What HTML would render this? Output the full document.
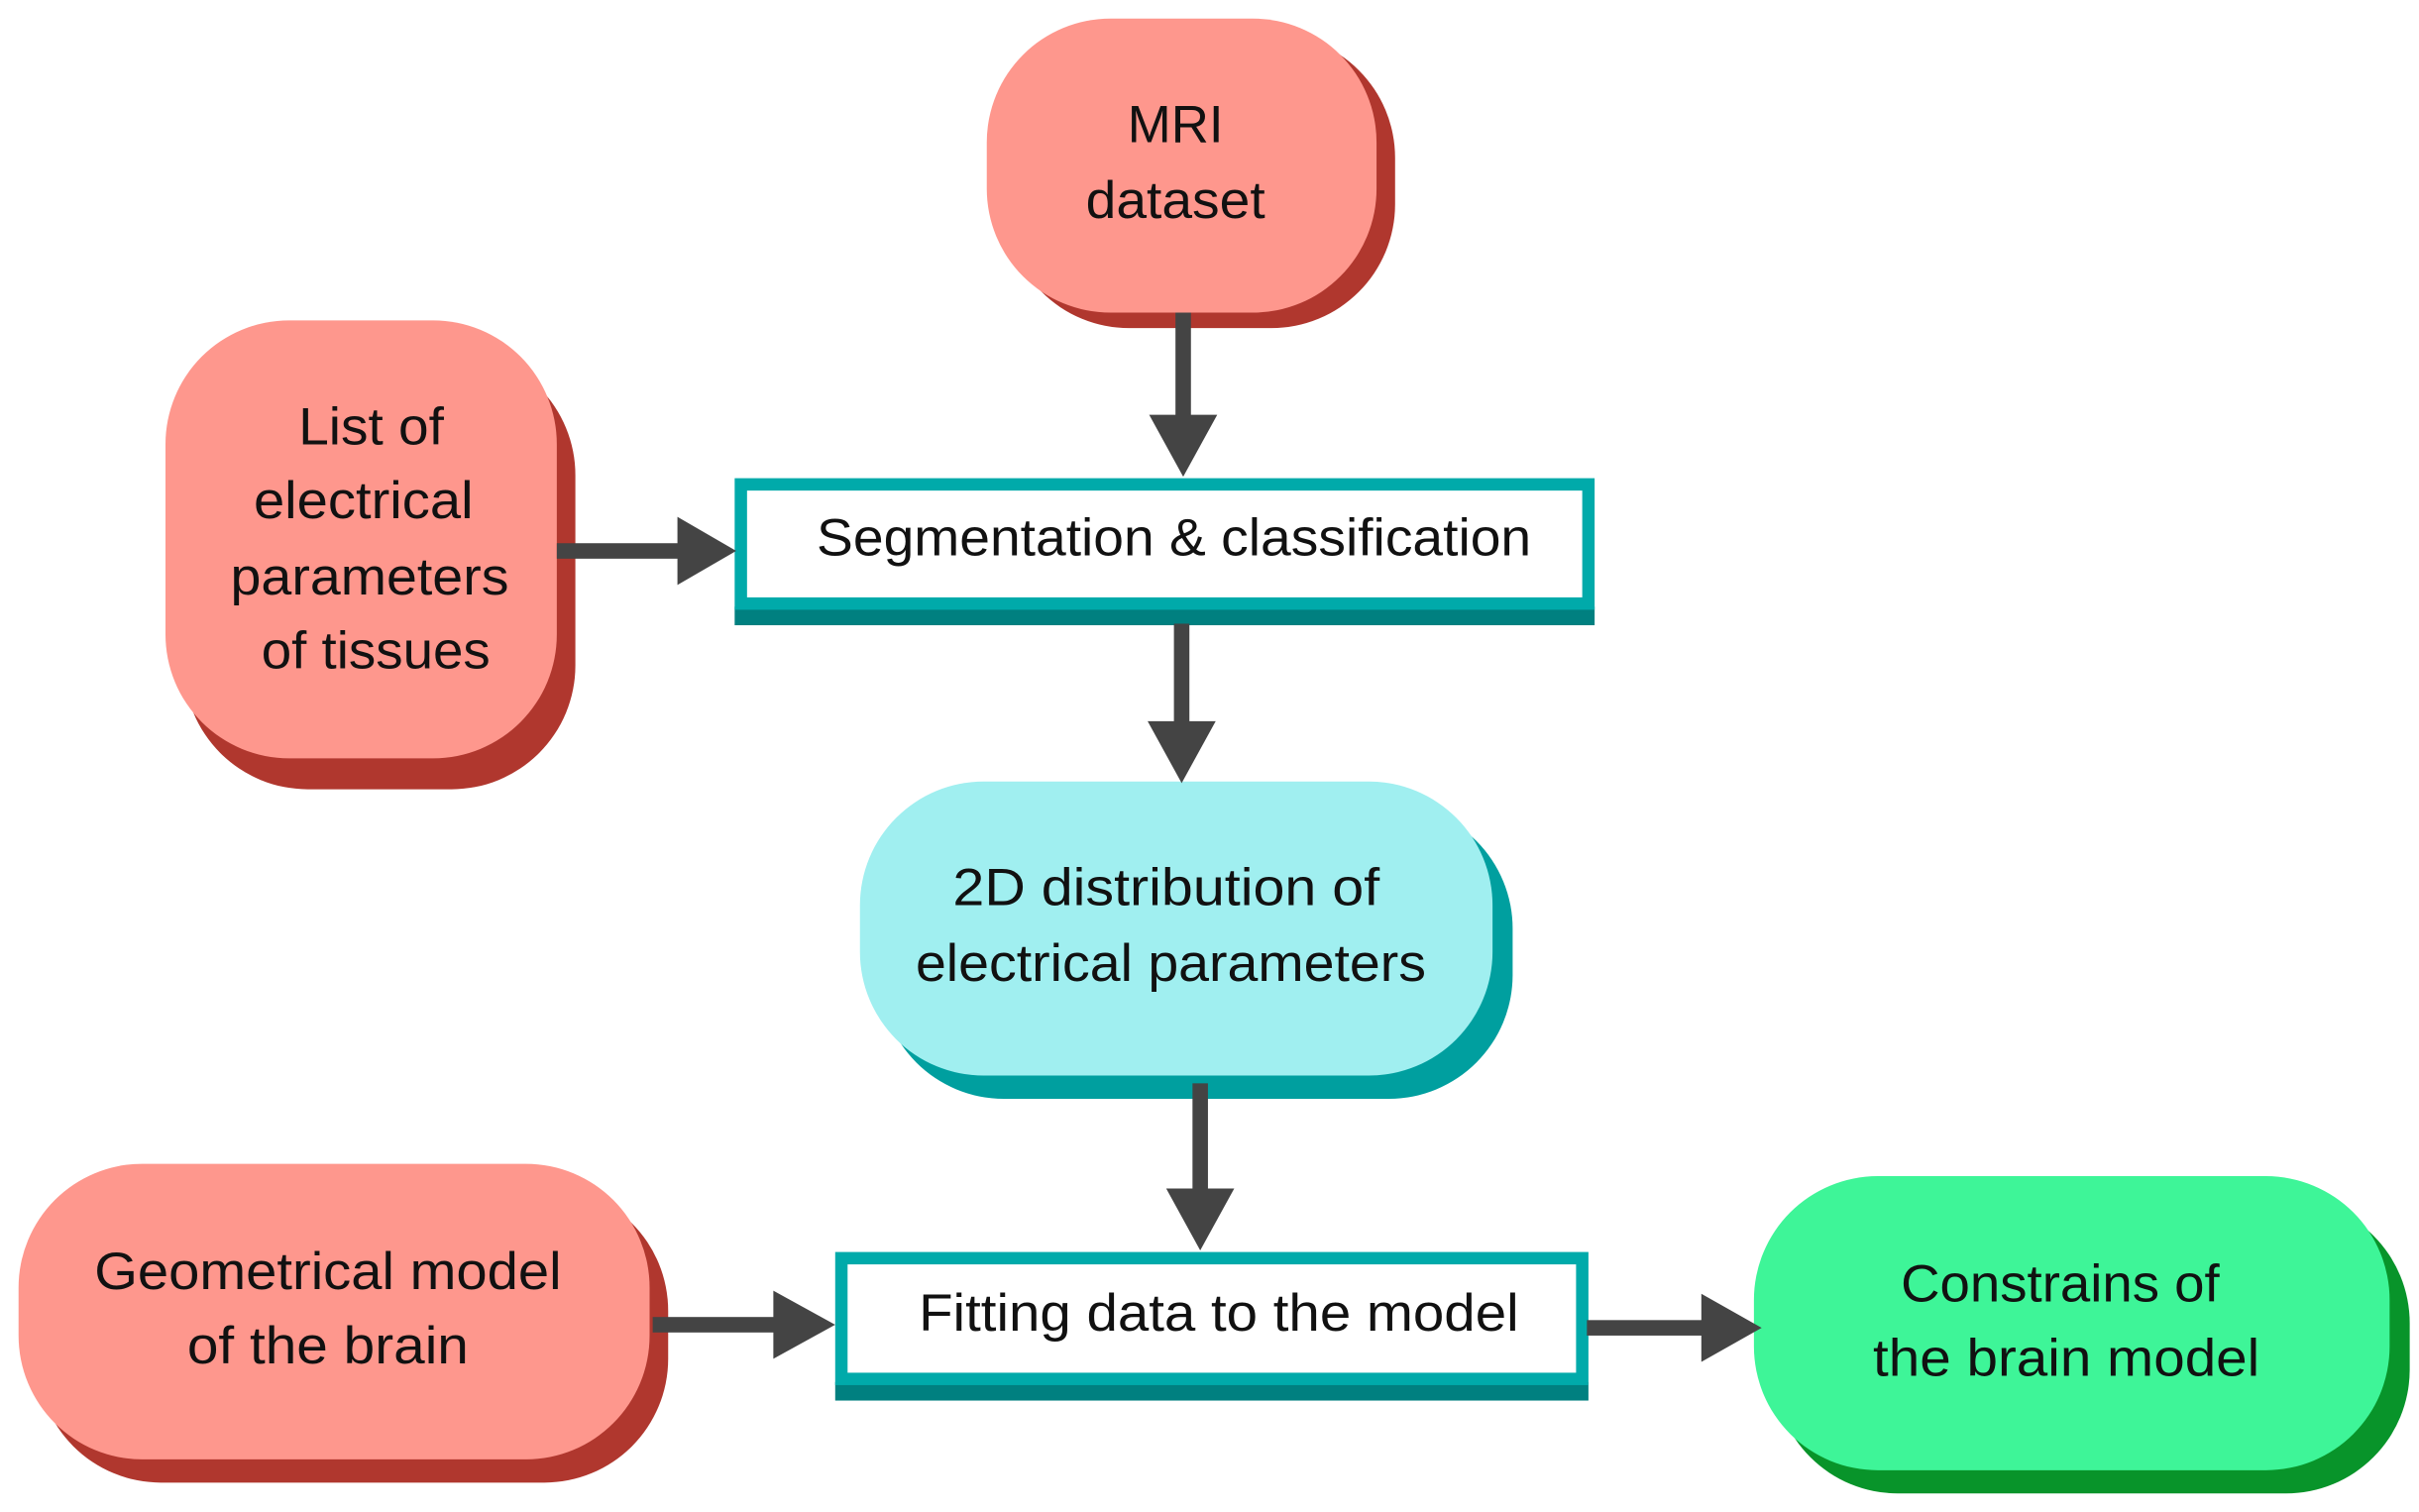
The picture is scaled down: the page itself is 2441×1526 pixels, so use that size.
<!DOCTYPE html>
<html><head><meta charset="utf-8"><style>
html,body{margin:0;padding:0;background:#fff;}
svg{display:block;}
text{font-family:"Liberation Sans",sans-serif;fill:#111;}
</style></head><body>
<svg width="2441" height="1526" viewBox="0 0 1564 977" preserveAspectRatio="none" xmlns="http://www.w3.org/2000/svg">
<!-- MRI -->
<rect x="650" y="22" width="252" height="190" rx="80" fill="#b0372e"/>
<rect x="638" y="12" width="252" height="190" rx="80" fill="#fe978d"/>
<text x="760" y="92" font-size="34" text-anchor="middle" textLength="62" lengthAdjust="spacingAndGlyphs">MRI</text>
<text x="760" y="141" font-size="34" text-anchor="middle" textLength="116" lengthAdjust="spacingAndGlyphs">dataset</text>
<!-- List -->
<rect x="119" y="227" width="253" height="283" rx="80" fill="#b0372e"/>
<rect x="107" y="207" width="253" height="283" rx="80" fill="#fe978d"/>
<text x="240" y="287" font-size="34" text-anchor="middle" textLength="94" lengthAdjust="spacingAndGlyphs">List of</text>
<text x="235" y="335" font-size="34" text-anchor="middle" textLength="142" lengthAdjust="spacingAndGlyphs">electrical</text>
<text x="239" y="384" font-size="34" text-anchor="middle" textLength="180" lengthAdjust="spacingAndGlyphs">parameters</text>
<text x="243" y="432" font-size="34" text-anchor="middle" textLength="148" lengthAdjust="spacingAndGlyphs">of tissues</text>
<!-- Segmentation -->
<rect x="475" y="392" width="556" height="12" fill="#008080"/>
<rect x="479" y="313" width="548" height="77" fill="#fff" stroke="#00aaaa" stroke-width="8"/>
<text x="528" y="359" font-size="34" textLength="462" lengthAdjust="spacingAndGlyphs">Segmentation &amp; classification</text>
<!-- 2D -->
<rect x="569" y="520" width="409" height="190" rx="80" fill="#009f9f"/>
<rect x="556" y="505" width="409" height="190" rx="80" fill="#a0eff0"/>
<text x="754" y="585" font-size="34" text-anchor="middle" textLength="276" lengthAdjust="spacingAndGlyphs">2D distribution of</text>
<text x="757" y="634" font-size="34" text-anchor="middle" textLength="330" lengthAdjust="spacingAndGlyphs">electrical parameters</text>
<!-- Geometrical -->
<rect x="24" y="767" width="408" height="191" rx="80" fill="#b0372e"/>
<rect x="12" y="752" width="408" height="191" rx="80" fill="#fe978d"/>
<text x="212" y="833" font-size="34" text-anchor="middle" textLength="302" lengthAdjust="spacingAndGlyphs">Geometrical model</text>
<text x="212" y="881" font-size="34" text-anchor="middle" textLength="182" lengthAdjust="spacingAndGlyphs">of the brain</text>
<!-- Fitting -->
<rect x="540" y="893" width="487" height="12" fill="#008080"/>
<rect x="544" y="813" width="479" height="78" fill="#fff" stroke="#00aaaa" stroke-width="8"/>
<text x="594" y="860" font-size="34" textLength="388" lengthAdjust="spacingAndGlyphs">Fitting data to the model</text>
<!-- Constrains -->
<rect x="1147" y="775" width="411" height="190" rx="80" fill="#08942a"/>
<rect x="1134" y="760" width="411" height="190" rx="80" fill="#3ef598"/>
<text x="1332" y="841" font-size="34" text-anchor="middle" textLength="206" lengthAdjust="spacingAndGlyphs">Constrains of</text>
<text x="1336" y="889" font-size="34" text-anchor="middle" textLength="250" lengthAdjust="spacingAndGlyphs">the brain model</text>
<!-- Arrows -->
<g fill="#444">
<rect x="760" y="202" width="10" height="70"/><polygon points="743,268 787,268 765,308"/>
<rect x="360" y="351" width="82" height="10"/><polygon points="438,334 438,378 476,356"/>
<rect x="759" y="403" width="10" height="67"/><polygon points="742,466 786,466 764,506"/>
<rect x="771" y="700" width="10" height="72"/><polygon points="754,768 798,768 776,808"/>
<rect x="422" y="851" width="82" height="10"/><polygon points="500,834 500,878 540,856"/>
<rect x="1026" y="853" width="78" height="10"/><polygon points="1100,836 1100,880 1139,858"/>
</g>
</svg>
</body></html>
